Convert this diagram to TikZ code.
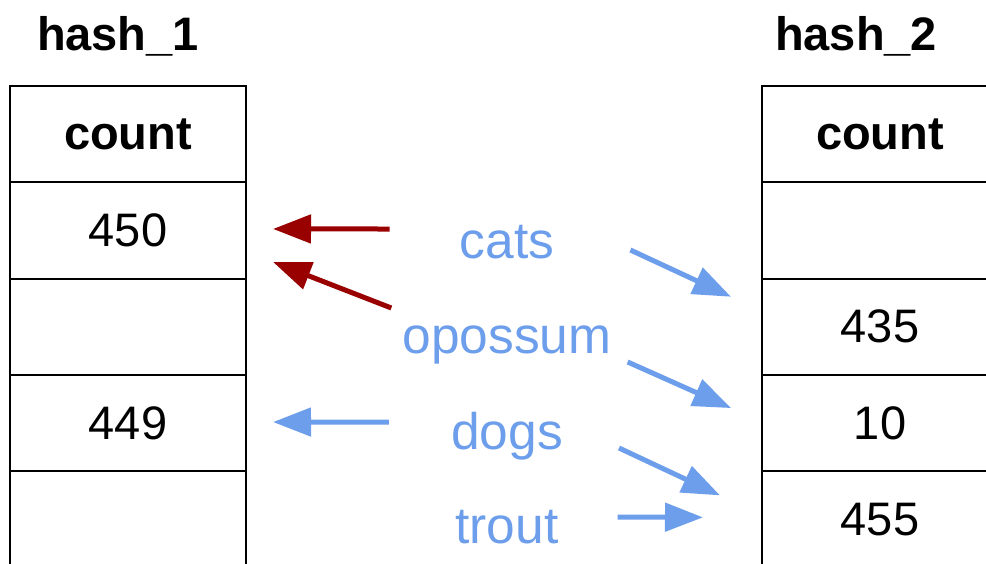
\documentclass[tikz,border=0pt]{standalone}
\usepackage{fontspec}
\setmainfont{Liberation Sans}
\usetikzlibrary{arrows.meta}
\definecolor{keyblue}{HTML}{6D9EEB}
\definecolor{keyred}{HTML}{990000}
\begin{document}
\begin{tikzpicture}[x=1pt,y=-1pt,
  cell/.style={draw=black,line width=2pt,minimum width=236pt,minimum height=96.3pt,
    inner sep=0pt,font=\fontsize{47}{56}\selectfont},
  headcell/.style={cell,font=\fontsize{47}{56}\selectfont\bfseries},
  title/.style={anchor=base,inner sep=0pt,font=\fontsize{47}{56}\selectfont\bfseries},
  keylabel/.style={anchor=base,inner sep=0pt,text=keyblue,font=\fontsize{51.5}{60}\selectfont},
  bluearrow/.style={draw=keyblue,line width=5pt,-{Triangle[length=38pt,width=28pt]}},
  redarrow/.style={draw=keyred,line width=5pt,-{Triangle[length=38pt,width=28pt]}}]
\useasboundingbox (0,0) rectangle (986,563);
\clip (0,0) rectangle (986,563);

% table titles
\node[title] (t1) at (118,50) {hash\_1};
\node[title] (t2) at (856,50) {hash\_2};

% first table
\node[headcell] (L0) at (128,134.15) {count};
\node[cell] (L1) at (128,230.45) {450};
\node[cell] (L2) at (128,326.75) {};
\node[cell] (L3) at (128,423.05) {449};
\node[cell] (L4) at (128,519.35) {};

% second table
\node[headcell] (R0) at (880,134.15) {count};
\node[cell] (R1) at (880,230.45) {};
\node[cell] (R2) at (880,326.75) {435};
\node[cell] (R3) at (880,423.05) {10};
\node[cell] (R4) at (880,519.35) {455};

% keys
\node[keylabel] (cats) at (507,258) {cats};
\node[keylabel] (opossum) at (507,353) {opossum};
\node[keylabel] (dogs) at (507,449) {dogs};
\node[keylabel] (trout) at (507,543) {trout};

% lookups into the first table
\draw[redarrow] ([shift={(-70,-29)}]cats.base west) -- ([shift={(26,-1.5)}]L1.east);
\draw[redarrow] ([shift={(-11,-45)}]opossum.base west) -- ([shift={(26,31.5)}]L1.east);
\draw[bluearrow] ([shift={(-62,-27)}]dogs.base west) -- ([shift={(26,-1)}]L3.east);

% lookups into the second table
\draw[bluearrow] ([shift={(76,-8)}]cats.base east) -- ([shift={(-30,-30)}]R2.west);
\draw[bluearrow] ([shift={(16,9)}]opossum.base east) -- ([shift={(-30,-15)}]R3.west);
\draw[bluearrow] ([shift={(56,-1)}]dogs.base east) -- ([shift={(-41,-24)}]R4.west);
\draw[bluearrow] ([shift={(59,-26)}]trout.base east) -- ([shift={(-58,-2)}]R4.west);
\end{tikzpicture}
\end{document}
